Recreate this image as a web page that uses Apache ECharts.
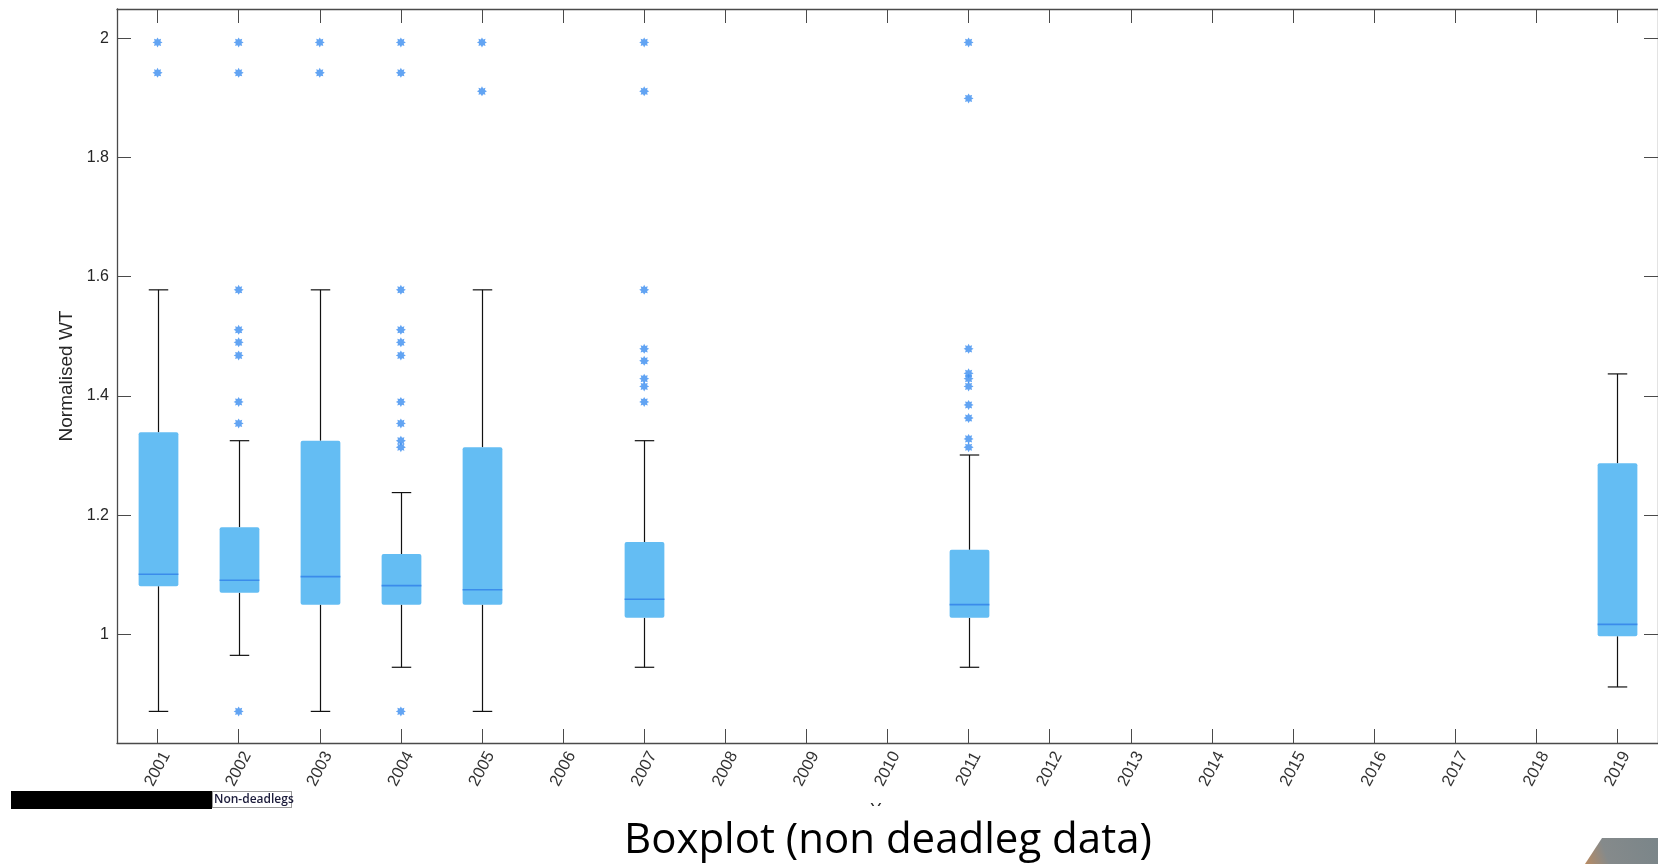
<!DOCTYPE html>
<html>
<head>
<meta charset="utf-8">
<title>Boxplot (non deadleg data)</title>
<script src="https://cdn.jsdelivr.net/npm/echarts@6/dist/echarts.min.js"></script>
<style>
  html, body { margin: 0; padding: 0; background: #fff; }
  #chart { width: 1658px; height: 864px; }
</style>
</head>
<body>
<div id="chart"></div>
<script>
// Year categories on the horizontal axis
const years = ['2001', '2002', '2003', '2004', '2005', '2006', '2007', '2008', '2009', '2010',
  '2011', '2012', '2013', '2014', '2015', '2016', '2017', '2018', '2019'];

// Years that carry a box, with their five-number summaries
const boxYears     = ['2001', '2002', '2003', '2004', '2005', '2007', '2011', '2019'];
const whiskerLow   = [0.871, 0.965, 0.871, 0.945, 0.871, 0.945, 0.945, 0.912];
const quartile1    = [1.081, 1.070, 1.050, 1.050, 1.050, 1.028, 1.028, 0.997];
const medians      = [1.101, 1.091, 1.097, 1.082, 1.075, 1.059, 1.050, 1.017];
const quartile3    = [1.339, 1.180, 1.325, 1.135, 1.314, 1.155, 1.142, 1.287];
const whiskerHigh  = [1.578, 1.325, 1.578, 1.238, 1.578, 1.325, 1.301, 1.437];

// Outliers, one list per entry of boxYears
const outlierValues = [
  [1.993, 1.942],
  [1.993, 1.942, 1.578, 1.511, 1.490, 1.468, 1.390, 1.354, 0.871],
  [1.993, 1.942],
  [1.993, 1.942, 1.578, 1.511, 1.490, 1.468, 1.390, 1.354, 1.325, 1.314, 0.871],
  [1.993, 1.911],
  [1.993, 1.911, 1.578, 1.479, 1.459, 1.429, 1.416, 1.390],
  [1.993, 1.899, 1.479, 1.438, 1.429, 1.416, 1.385, 1.363, 1.328, 1.314],
  []
];

const yMin = 0.818;
const yMax = 2.049;

const boxData = boxYears.map((y, i) =>
  [y, whiskerLow[i], quartile1[i], medians[i], quartile3[i], whiskerHigh[i]]);
const outlierData = [];
boxYears.forEach((y, i) => outlierValues[i].forEach(v => outlierData.push([y, v])));

const axisColor = '#4a4a4a';
const labelColor = '#262626';
const boxFill = '#64BDF3';
const medianColor = '#3A8CEB';
const outlierColor = '#3B8DF0';

// Eight-pointed asterisk-like marker for outliers
function starPath() {
  const pts = [];
  for (let k = 0; k < 16; k++) {
    const a = k * Math.PI / 8;
    const r = k % 2 === 0 ? 1 : 0.62;
    pts.push((1 + r * Math.cos(a)).toFixed(3) + ' ' + (1 + r * Math.sin(a)).toFixed(3));
  }
  return 'path://M' + pts.join(' L') + ' Z';
}

function renderBox(params, api) {
  const x = api.value(0);
  const lo = api.coord([x, api.value(1)]);
  const b1 = api.coord([x, api.value(2)]);
  const md = api.coord([x, api.value(3)]);
  const b3 = api.coord([x, api.value(4)]);
  const hi = api.coord([x, api.value(5)]);
  const band = api.size([1, 0])[0];
  const bw = band * 0.49;
  const cw = band * 0.24;
  const cx = Math.round(lo[0]) + 0.5;
  const ws = { stroke: '#111', lineWidth: 1.2 };
  return {
    type: 'group',
    children: [
      { type: 'line', shape: { x1: cx, y1: hi[1], x2: cx, y2: b3[1] }, style: ws },
      { type: 'line', shape: { x1: cx, y1: b1[1], x2: cx, y2: lo[1] }, style: ws },
      { type: 'line', shape: { x1: cx - cw / 2, y1: hi[1], x2: cx + cw / 2, y2: hi[1] }, style: ws },
      { type: 'line', shape: { x1: cx - cw / 2, y1: lo[1], x2: cx + cw / 2, y2: lo[1] }, style: ws },
      { type: 'rect', shape: { x: cx - bw / 2, y: b3[1], width: bw, height: b1[1] - b3[1], r: 2 },
        style: { fill: boxFill } },
      { type: 'line', shape: { x1: cx - bw / 2, y1: md[1], x2: cx + bw / 2, y2: md[1] },
        style: { stroke: medianColor, lineWidth: 1.6 } }
    ]
  };
}

const chart = echarts.init(document.getElementById('chart'), null, { renderer: 'canvas' });

const tickStyle = { show: true, inside: true, length: 14, alignWithLabel: true,
  lineStyle: { color: axisColor, width: 1 } };

chart.setOption({
  animation: false,
  backgroundColor: '#fff',
  grid: { left: 117, top: 9, right: -5, bottom: 121, containLabel: false },
  title: {
    text: 'Boxplot (non deadleg data)',
    left: 614,
    top: 806,
    padding: [14, 10, 2, 10],
    backgroundColor: '#fff',
    textStyle: { fontFamily: 'Open Sans', fontSize: 42, fontWeight: 'normal', color: '#000' }
  },
  xAxis: [
    {
      type: 'category',
      data: years,
      position: 'bottom',
      boundaryGap: true,
      name: 'Year',
      nameLocation: 'middle',
      nameGap: 59,
      nameTextStyle: { fontFamily: 'Liberation Sans', fontSize: 17, color: labelColor },
      axisLine: { show: true, lineStyle: { color: axisColor, width: 1.3 } },
      axisTick: tickStyle,
      axisLabel: {
        rotate: 62, align: 'center', verticalAlign: 'middle', margin: 26,
        padding: [22, 0, 0, 0],
        fontFamily: 'Liberation Sans', fontSize: 16.5, color: '#333'
      },
      splitLine: { show: false }
    },
    {
      type: 'category',
      data: years,
      position: 'top',
      boundaryGap: true,
      axisLine: { show: true, lineStyle: { color: axisColor, width: 1.3 } },
      axisTick: tickStyle,
      axisLabel: { show: false },
      splitLine: { show: false }
    }
  ],
  yAxis: [
    {
      type: 'value',
      min: yMin,
      max: yMax,
      splitNumber: 6,
      position: 'left',
      name: 'Normalised WT',
      nameLocation: 'middle',
      nameGap: 40,
      nameTextStyle: { fontFamily: 'Liberation Sans', fontSize: 19, color: labelColor },
      axisLine: { show: true, lineStyle: { color: axisColor, width: 1.3 } },
      axisTick: { show: true, inside: true, length: 14, lineStyle: { color: axisColor } },
      axisLabel: {
        showMinLabel: false, showMaxLabel: false, margin: 8,
        fontFamily: 'Liberation Sans', fontSize: 16, color: labelColor
      },
      splitLine: { show: false }
    },
    {
      type: 'value',
      min: yMin,
      max: yMax,
      splitNumber: 6,
      position: 'right',
      axisLine: { show: true, lineStyle: { color: axisColor, width: 1.3 } },
      axisTick: { show: true, inside: true, length: 14, lineStyle: { color: axisColor } },
      axisLabel: { show: false },
      splitLine: { show: false }
    }
  ],
  series: [
    {
      name: 'Non-deadlegs',
      type: 'custom',
      xAxisIndex: 0,
      yAxisIndex: 0,
      renderItem: renderBox,
      encode: { x: 0, y: [1, 2, 3, 4, 5] },
      data: boxData,
      z: 2
    },
    {
      name: 'Outliers',
      type: 'scatter',
      xAxisIndex: 0,
      yAxisIndex: 0,
      symbol: starPath(),
      symbolSize: 10,
      itemStyle: { color: outlierColor },
      data: outlierData,
      z: 3
    }
  ],
  graphic: [
    { type: 'rect', z: 100, shape: { x: 11, y: 791, width: 201, height: 18 }, style: { fill: '#000' } },
    { type: 'rect', z: 100, shape: { x: 212.5, y: 791.5, width: 79, height: 16 },
      style: { fill: '#fff', stroke: '#333', lineWidth: 1, lineDash: [1, 1] } },
    { type: 'text', z: 101, x: 214, y: 799.5,
      style: { text: 'Non-deadlegs', fontFamily: 'Open Sans', fontSize: 12, fontWeight: 600,
        fill: '#1b1b3a', verticalAlign: 'middle', align: 'left' } },
    { type: 'polygon', z: 100,
      shape: { points: [[1602, 838], [1658, 838], [1658, 864], [1585, 864]] },
      style: {
        fill: new echarts.graphic.LinearGradient(0, 1, 1, 0, [
          { offset: 0, color: '#B98B62' },
          { offset: 0.3, color: '#858A8B' },
          { offset: 1, color: '#7A8589' }
        ])
      } }
  ]
});
</script>
</body>
</html>
